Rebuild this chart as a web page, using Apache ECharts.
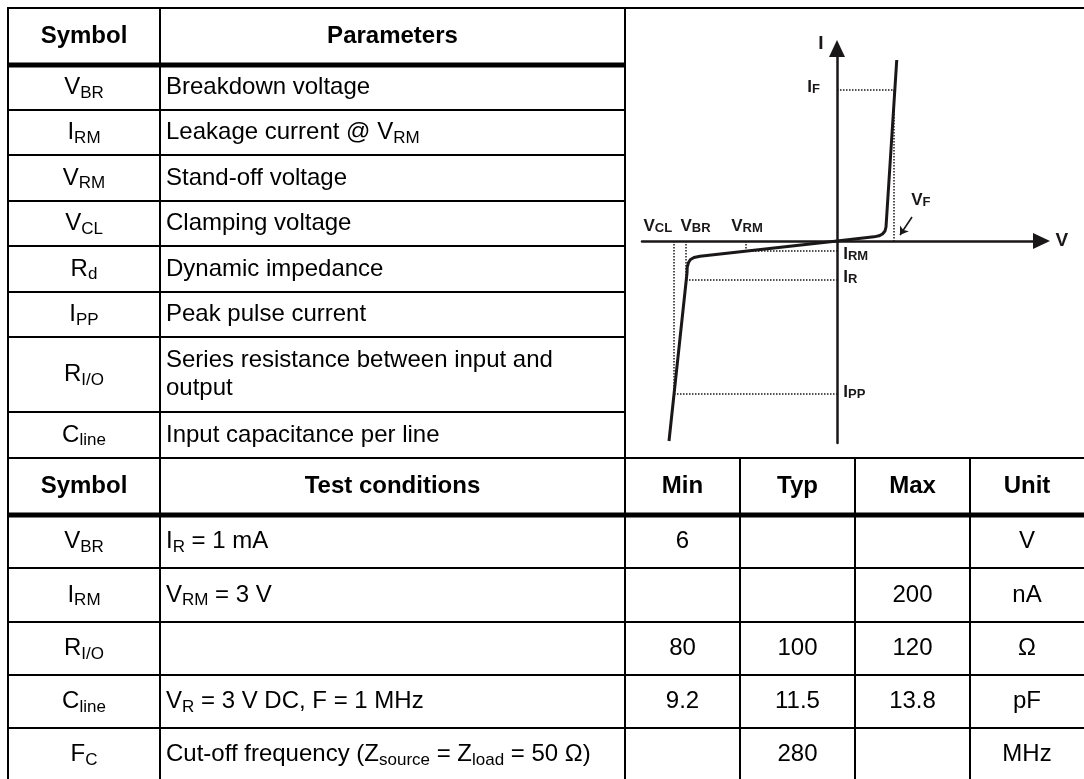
<!DOCTYPE html>
<html>
<head>
<meta charset="utf-8">
<title>Electrical characteristics</title>
<script src="https://cdn.jsdelivr.net/npm/echarts@6.0.0/dist/echarts.min.js"></script>
<style>
  html, body { margin: 0; padding: 0; background: #fff; }
  #chart { width: 1084px; height: 779px; }
</style>
</head>
<body>
<div id="chart"></div>
<script>
;(function () {
  'use strict'

  //------------------- Data START -------------------//
  // parameter table (left of the sketch)
  var paramSymbols = ['V_{BR}', 'I_{RM}', 'V_{RM}', 'V_{CL}', 'R_{d}', 'I_{PP}', 'R_{I/O}', 'C_{line}']
  var paramNames = [
    'Breakdown voltage',
    'Leakage current @ V_{RM}',
    'Stand-off voltage',
    'Clamping voltage',
    'Dynamic impedance',
    'Peak pulse current',
    'Series resistance between input and\noutput',
    'Input capacitance per line',
  ]

  // characteristics table
  var testHeaders = ['Symbol', 'Test conditions', 'Min', 'Typ', 'Max', 'Unit']
  var testSymbols = ['V_{BR}', 'I_{RM}', 'R_{I/O}', 'C_{line}', 'F_{C}']
  var testConditions = ['I_{R} = 1 mA', 'V_{RM} = 3 V', '', 'V_{R} = 3 V DC, F = 1 MHz', 'Cut-off frequency (Z_{source} = Z_{load} = 50 Ω)']
  var minVals = ['6', '', '80', '9.2', '']
  var typVals = ['', '', '100', '11.5', '280']
  var maxVals = ['', '200', '120', '13.8', '']
  var units = ['V', 'nA', 'Ω', 'pF', 'MHz']

  // I/V sketch, schematic units (V on x, I on y)
  var curveV = [2.39, 1.96, 1.92, 1.82, 1.68, 1.48, 0, -5.48, -5.72, -5.86, -5.94, -5.99, -6.0, -6.72]
  var curveI = [18.1, 1.4, 1.0, 0.7, 0.52, 0.414, 0, -1.53, -1.65, -1.85, -2.15, -2.6, -3.2, -20.0]

  var vF = 2.28, iF = 15.1
  var vRM = -3.64, iRM = -1.02
  var vBR = -6.04, iR = -3.9
  var vCL = -6.52, iPP = -15.3

  var sketchLabels = ['V_{CL}', 'V_{BR}', 'V_{RM}', 'I_{F}', 'V_{F}', 'I_{RM}', 'I_{R}', 'I_{PP}']
  var sketchLabelV = [-7.76, -6.28, -4.25, -1.21, 2.95, 0.23, 0.23, 0.23]
  var sketchLabelI = [1.2, 1.2, 1.2, 15.1, 3.8, -1.6, -3.9, -15.4]
  //------------------- Data END -------------------//

  var font = '"Liberation Sans", Arial, Helvetica, sans-serif'
  var ink = '#000'
  var sketchInk = '#1a1718'

  // "V_{BR}" -> "{n|V}{s|BR}"
  function toRich(str, big, small) {
    return str
      .split('\n')
      .map(function (line) {
        return line
          .split(/(_\{[^}]*\})/)
          .filter(Boolean)
          .map(function (part) {
            return part.indexOf('_{') === 0 ? '{' + small + '|' + part.slice(2, -1) + '}' : '{' + big + '|' + part + '}'
          })
          .join('')
      })
      .join('\n')
  }

  var cellRich = {
    n: { fontSize: 24, fontFamily: font, lineHeight: 28, fill: ink },
    s: { fontSize: 17, fontFamily: font, lineHeight: 11, verticalAlign: 'bottom', fill: ink },
  }

  function seg(x1, y1, x2, y2, w) {
    return { type: 'line', silent: true, shape: { x1: x1, y1: y1, x2: x2, y2: y2 }, style: { stroke: ink, lineWidth: w || 2 } }
  }

  function cellText(x, y, str, align) {
    return {
      type: 'text',
      x: x,
      y: y,
      silent: true,
      style: { text: toRich(str, 'n', 's'), rich: cellRich, align: align || 'center', verticalAlign: 'middle', fill: ink, fontSize: 24, fontFamily: font },
    }
  }

  function headText(x, y, str) {
    return {
      type: 'text',
      x: x,
      y: y,
      silent: true,
      style: { text: str, align: 'center', verticalAlign: 'middle', fill: ink, fontSize: 24, fontWeight: 'bold', fontFamily: font },
    }
  }

  //------------------- Table layout -------------------//
  var xLeft = 8
  var xSym = 160
  var xDiag = 625
  var xRight = 1092
  var topBounds = [65, 110, 155, 201, 246, 292, 337, 412, 458]
  var botCols = [625, 740, 855, 970, 1084]
  var botBounds = [515, 568, 622, 675, 728, 781]
  var textLeft = xSym + 6
  var symCenter = (xLeft + xSym) / 2

  var els = []

  // frame and dividers
  els.push(seg(xLeft - 1, 8, xRight, 8, 2))
  els.push(seg(xLeft, 8, xLeft, 790, 2))
  els.push(seg(xSym, 8, xSym, 790, 2))
  els.push(seg(xDiag, 8, xDiag, 790, 2))
  els.push(seg(xLeft, topBounds[0], xDiag, topBounds[0], 5))
  topBounds.slice(1, -1).forEach(function (y) {
    els.push(seg(xLeft, y, xDiag, y, 2))
  })
  els.push(seg(xLeft, 458, xRight, 458, 2))
  botCols.slice(1, -1).forEach(function (x) {
    els.push(seg(x, 458, x, 790, 2))
  })
  els.push(seg(xLeft, botBounds[0], xRight, botBounds[0], 5))
  botBounds.slice(1, -1).forEach(function (y) {
    els.push(seg(xLeft, y, xRight, y, 2))
  })

  // top table text
  els.push(headText(symCenter, 36, 'Symbol'))
  els.push(headText((xSym + xDiag) / 2, 36, 'Parameters'))
  paramSymbols.forEach(function (sym, i) {
    var cy = (topBounds[i] + topBounds[i + 1]) / 2
    els.push(cellText(symCenter, cy, sym))
    els.push(cellText(textLeft, cy, paramNames[i], 'left'))
  })

  // bottom table text
  var headY = (458 + botBounds[0]) / 2
  els.push(headText(symCenter, headY, testHeaders[0]))
  els.push(headText((xSym + xDiag) / 2, headY, testHeaders[1]))
  for (var c = 2; c < testHeaders.length; c++) {
    els.push(headText((botCols[c - 2] + botCols[c - 1]) / 2, headY, testHeaders[c]))
  }
  var numCols = [minVals, typVals, maxVals, units]
  testSymbols.forEach(function (sym, i) {
    var cy = (botBounds[i] + botBounds[i + 1]) / 2
    els.push(cellText(symCenter, cy, sym))
    els.push(cellText(textLeft, cy, testConditions[i], 'left'))
    numCols.forEach(function (col, k) {
      if (col[i]) els.push(cellText((botCols[k] + botCols[k + 1]) / 2, cy, col[i]))
    })
  })

  //------------------- Sketch -------------------//
  var refLines = [
    [[0, iF], [vF, iF]],
    [[vF, iF], [vF, 0]],
    [[vRM, iRM], [0, iRM]],
    [[vRM, 0], [vRM, iRM]],
    [[vBR, iR], [0, iR]],
    [[vBR, 0], [vBR, iR]],
    [[vCL, iPP], [0, iPP]],
    [[vCL, 0], [vCL, iPP]],
  ]

  var axisCommon = {
    type: 'value',
    axisTick: { show: false },
    axisLabel: { show: false },
    splitLine: { show: false },
    axisLine: { onZero: true, symbol: ['none', 'triangle'], symbolSize: [16, 17], lineStyle: { color: sketchInk, width: 2.5 } },
    nameTextStyle: { color: sketchInk, fontSize: 19, fontWeight: 'bold', fontFamily: font },
  }

  var option = {
    animation: false,
    backgroundColor: '#fff',
    grid: { left: 642, top: 48.5, width: 399.5, height: 394.5, containLabel: false, outerBoundsMode: 'none' },
    xAxis: Object.assign({}, axisCommon, { min: -7.8, max: 8.18, name: 'V', nameLocation: 'end', nameGap: 14 }),
    yAxis: Object.assign({}, axisCommon, {
      min: -20.2,
      max: 19.25,
      name: 'I',
      nameLocation: 'end',
      nameGap: 5,
      nameTextStyle: Object.assign({}, axisCommon.nameTextStyle, { align: 'center', verticalAlign: 'middle', padding: [0, 32, 0, 0] }),
    }),
    graphic: { elements: els },
    series: [
      {
        type: 'lines',
        coordinateSystem: 'cartesian2d',
        silent: true,
        symbol: 'none',
        data: refLines.map(function (c) {
          return { coords: c }
        }),
        lineStyle: { color: sketchInk, width: 1.5, type: [1.5, 1.5], opacity: 1 },
        z: 2,
      },
      {
        type: 'lines',
        coordinateSystem: 'cartesian2d',
        silent: true,
        symbol: ['none', 'arrow'],
        symbolSize: 8,
        data: [{ coords: [[3.0, 2.4], [2.52, 0.6]] }],
        lineStyle: { color: sketchInk, width: 1.6, opacity: 1 },
        z: 2,
      },
      {
        type: 'line',
        silent: true,
        symbol: 'none',
        clip: false,
        data: curveV.map(function (v, i) {
          return [v, curveI[i]]
        }),
        lineStyle: { color: sketchInk, width: 3 },
        itemStyle: { color: sketchInk },
        z: 3,
      },
      {
        type: 'scatter',
        silent: true,
        symbolSize: 1,
        itemStyle: { color: 'rgba(0,0,0,0)', opacity: 1 },
        data: sketchLabels.map(function (t, i) {
          return { name: t, value: [sketchLabelV[i], sketchLabelI[i]] }
        }),
        label: {
          show: true,
          position: 'right',
          distance: 0,
          opacity: 1,
          color: sketchInk,
          formatter: function (p) {
            return toRich(p.name, 'b', 's')
          },
          rich: {
            b: { fontSize: 17, fontWeight: 'bold', fontFamily: font, color: sketchInk, lineHeight: 12, verticalAlign: 'bottom' },
            s: { fontSize: 13, fontWeight: 'bold', fontFamily: font, color: sketchInk, lineHeight: 9, verticalAlign: 'bottom' },
          },
        },
        z: 4,
      },
    ],
  }

  var chart = echarts.init(document.getElementById('chart'), null, { renderer: 'canvas' })
  chart.setOption(option)
})()
</script>
</body>
</html>
